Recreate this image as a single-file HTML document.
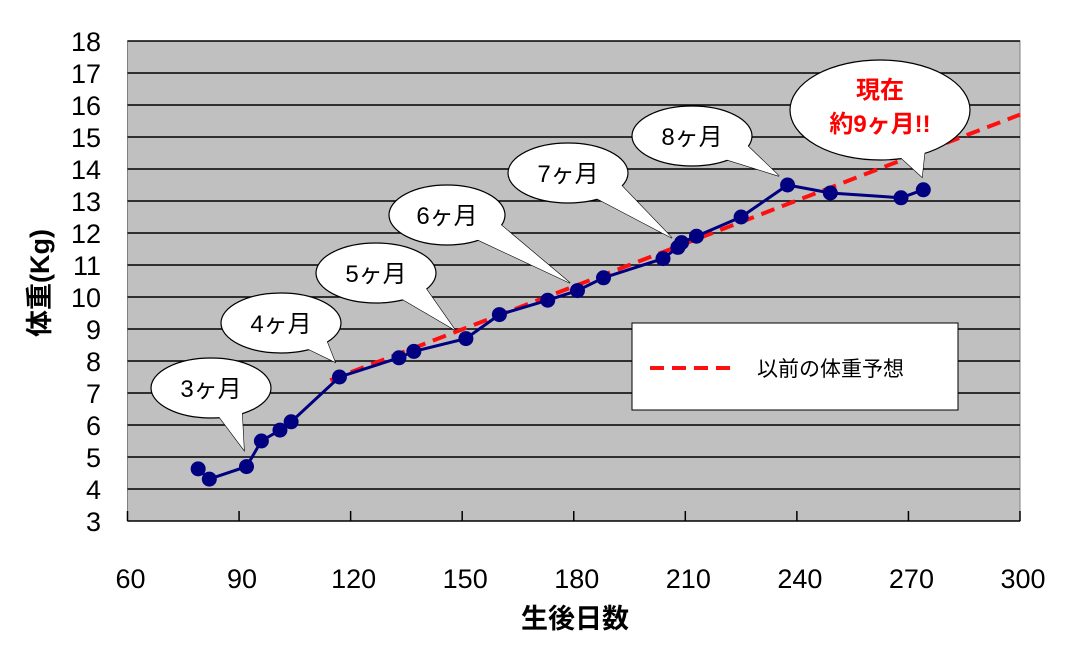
<!DOCTYPE html>
<html><head><meta charset="utf-8"><style>
body{margin:0;background:#fff;width:1068px;height:646px;overflow:hidden}
svg{display:block;font-family:"Liberation Sans","Noto Sans CJK JP",sans-serif}
</style></head><body>
<svg id="c" width="1068" height="646">
<g id="plot"></g>
</svg>
<script>
const days=[79,82,92,96,101,104,117,133,137,151,160,173,181,188,204,208,209,213,225,237.5,249,268,274];
const weights=[4.63,4.31,4.7,5.5,5.84,6.1,7.5,8.1,8.3,8.7,9.45,9.9,10.2,10.6,11.2,11.55,11.7,11.9,12.5,13.5,13.25,13.1,13.35];
const trendDays=[114.5,300];
const trendWeights=[7.4,15.7];
const xTicks=[60,90,120,150,180,210,240,270,300];
const yTicks=[3,4,5,6,7,8,9,10,11,12,13,14,15,16,17,18];
const callouts=[
 {t:"3ヶ月",cx:211,cy:388,rx:60,ry:30,px:244,py:450},
 {t:"4ヶ月",cx:281,cy:323,rx:60,ry:30,px:335,py:362},
 {t:"5ヶ月",cx:376,cy:273,rx:60,ry:30,px:455,py:330},
 {t:"6ヶ月",cx:447,cy:215,rx:58,ry:30,px:570,py:283},
 {t:"7ヶ月",cx:568,cy:173,rx:60,ry:30,px:672,py:238},
 {t:"8ヶ月",cx:692,cy:136,rx:60,ry:30,px:779,py:176}
];
const X0=127.5,X1=1020,Y0=521,Y1=41;
const x=d=>X0+(d-60)/(300-60)*(X1-X0);
const y=v=>Y0-(v-3)/(18-3)*(Y0-Y1);
const NS="http://www.w3.org/2000/svg";
const g=document.getElementById('plot');
function mk(tag,attrs,parent){const e=document.createElementNS(NS,tag);for(const k in attrs)e.setAttribute(k,attrs[k]);(parent||g).appendChild(e);return e;}
let e=mk('rect',{x:X0,y:Y1,width:X1-X0,height:Y0-Y1,fill:'#c0c0c0',stroke:'#808080'});


yTicks.forEach(v=>{
 if(v>3){const l=mk('line',{x1:X0,x2:X1,y1:y(v),y2:y(v),stroke:'#000','stroke-width':1.5});
 
 }
 const t=mk('text',{x:101,y:y(v)+10,'text-anchor':'end','font-size':27});
 t.textContent=v;
 
 
});
mk('line',{x1:X0,x2:X1,y1:Y0,y2:Y0,stroke:'#000','stroke-width':1.5});
xTicks.forEach(v=>{
 mk('line',{x1:x(v),x2:x(v),y1:Y0,y2:Y0-10,stroke:'#000','stroke-width':1.5});
 const t=mk('text',{x:x(v)+3,y:588,'text-anchor':'middle','font-size':27});
 t.textContent=v;
 
 
});
e=mk('line',{x1:x(trendDays[0]),y1:y(trendWeights[0]),x2:x(trendDays[1]),y2:y(trendWeights[1]),stroke:'#ff1010','stroke-width':4,'stroke-dasharray':'14,8'});


e=mk('polyline',{points:days.map((d,i)=>x(d)+','+y(weights[i])).join(' '),fill:'none',stroke:'#000080','stroke-width':3});


days.forEach((d,i)=>{
 const c=mk('circle',{cx:x(d),cy:y(weights[i]),r:7.5,fill:'#000080'});
 
 
});
function bubble(o){
 const gr=mk('g',{});
 
 
 const dx=o.px-o.cx,dy=o.py-o.cy,len=Math.hypot(dx,dy);
 const nx=-dy/len,ny=dx/len,w=o.rx*0.25;
 const bx=o.cx+dx/len*o.rx*0.6,by=o.cy+dy/len*o.ry*0.6;
 const tri=`${bx+nx*w},${by+ny*w} ${o.px},${o.py} ${bx-nx*w},${by-ny*w}`;
 mk('polygon',{points:tri,fill:'#fff',stroke:'#000','stroke-width':1.2},gr);
 mk('ellipse',{cx:o.cx,cy:o.cy,rx:o.rx,ry:o.ry,fill:'#fff',stroke:'#000','stroke-width':1.2},gr);
 mk('polygon',{points:tri,fill:'#fff'},gr);
 return gr;
}
callouts.forEach(o=>{
 const gr=bubble(o);
 const t=mk('text',{x:o.cx,y:o.cy+9,'text-anchor':'middle','font-size':24},gr);
 t.textContent=o.t;
});
const now={cx:880,cy:110,rx:90,ry:50,px:922,py:177};
const gn=bubble(now);
let t=mk('text',{x:880,y:98,'text-anchor':'middle','font-size':24,'font-weight':'bold',fill:'#ff0000'},gn);t.textContent='現在';
t=mk('text',{x:880,y:132,'text-anchor':'middle','font-size':24,'font-weight':'bold',fill:'#ff0000'},gn);t.textContent='約9ヶ月!!';
const lg=mk('g',{});


mk('rect',{x:632,y:323,width:326,height:87,fill:'#fff',stroke:'#000','stroke-width':1},lg);
mk('line',{x1:650,x2:736,y1:368,y2:368,stroke:'#ff1010','stroke-width':4,'stroke-dasharray':'14,8'},lg);
t=mk('text',{x:757,y:376,'font-size':21},lg);t.textContent='以前の体重予想';
t=mk('text',{x:575,y:628,'text-anchor':'middle','font-size':27,'font-weight':'bold'},document.getElementById('c'));
t.textContent='生後日数';


t=mk('text',{x:0,y:0,'text-anchor':'middle','font-size':27,'font-weight':'bold',transform:'translate(49,283) rotate(-90)'},document.getElementById('c'));
t.textContent='体重(Kg)';


</script>
</body></html>
